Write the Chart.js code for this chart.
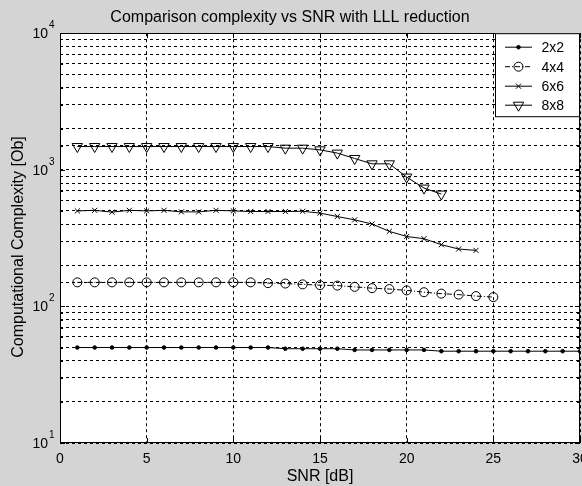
<!DOCTYPE html>
<html><head><meta charset="utf-8">
<script src="https://cdn.jsdelivr.net/npm/chart.js@4.4.1/dist/chart.umd.min.js"></script>
<style>html,body{margin:0;padding:0;background:#d4d4d4;}canvas{display:block;}</style>
</head><body>
<canvas id="c" width="582" height="486"></canvas>
<script>
// ---- data ----
const seriesNames = ['2x2', '4x4', '6x6', '8x8'];
const snr2x2 = [1,2,3,4,5,6,7,8,9,10,11,12,13,14,15,16,17,18,19,20,21,22,23,24,25,26,27,28,29,30];
const cc2x2  = [50,50,50,50,50,50,50,50,50,50,50,50,49,49,49,49,48,48,48,48,48,47,47,47,47,47,47,47,47,47];
const snr4x4 = [1,2,3,4,5,6,7,8,9,10,11,12,13,14,15,16,17,18,19,20,21,22,23,24,25];
const cc4x4  = [150,150,150,150,150,150,150,150,150,150,150,148,147,145,143,142,139,136,134,131,127,124,122,119,117];
const snr6x6 = [1,2,3,4,5,6,7,8,9,10,11,12,13,14,15,16,17,18,19,20,21,22,23,24];
const cc6x6  = [500,505,490,505,500,505,492,492,505,500,495,495,495,497,482,455,430,401,354,325,313,283,263,257];
const snr8x8 = [1,2,3,4,5,6,7,8,9,10,11,12,13,14,15,16,17,18,19,20,21,22];
const cc8x8  = [1480,1480,1480,1480,1480,1480,1480,1480,1480,1480,1480,1480,1440,1440,1400,1325,1210,1106,1106,885,735,664];
const xTickValues = [0,5,10,15,20,25,30];
const yMajorValues = [10,100,1000,10000];
const yMajorExponents = ['1','2','3','4'];
const titleText = 'Comparison complexity vs SNR with LLL reduction';
const xTitle = 'SNR [dB]';
const yTitle = 'Computational Complexity [Ob]';

const FONT = "Arial, 'Liberation Sans', sans-serif";
const pts = (xs, ys) => xs.map((x, i) => ({x: x, y: ys[i]}));

const styles = [
  {pointStyle:'circle', pointRadius:1.8, pointBackgroundColor:'#000', borderDash:[], rotation:0},
  {pointStyle:'circle', pointRadius:4.5, pointBackgroundColor:'rgba(0,0,0,0)', borderDash:[5,2,1,2], rotation:0},
  {pointStyle:'crossRot', pointRadius:3.6, pointBackgroundColor:'rgba(0,0,0,0)', borderDash:[], rotation:0},
  {pointStyle:'triangle', pointRadius:6, pointBackgroundColor:'rgba(0,0,0,0)', borderDash:[], rotation:180}
];
const seriesData = [pts(snr2x2, cc2x2), pts(snr4x4, cc4x4), pts(snr6x6, cc6x6), pts(snr8x8, cc8x8)];

const datasets = seriesNames.map((name, i) => ({
  label: name,
  data: seriesData[i],
  borderColor: '#000',
  borderWidth: 1,
  borderDash: styles[i].borderDash,
  pointStyle: styles[i].pointStyle,
  pointRadius: styles[i].pointRadius,
  pointRotation: styles[i].rotation,
  pointBackgroundColor: styles[i].pointBackgroundColor,
  pointBorderColor: '#000',
  pointBorderWidth: 1,
  pointHoverRadius: styles[i].pointRadius,
  fill: false,
  tension: 0
}));

const matlabPlugin = {
  id: 'matlab',
  beforeDraw(chart) {
    const {ctx, chartArea: a} = chart;
    ctx.save();
    ctx.fillStyle = '#d4d4d4';
    ctx.fillRect(0, 0, chart.width, chart.height);
    ctx.fillStyle = '#ffffff';
    ctx.fillRect(a.left, a.top, a.right - a.left, a.bottom - a.top);
    ctx.restore();
  },
  afterDraw(chart) {
    const {ctx, chartArea: a, scales} = chart;
    const xs = scales.x, ys = scales.y;
    ctx.save();
    ctx.strokeStyle = '#000';
    ctx.lineWidth = 1;
    ctx.setLineDash([]);
    // inward tick marks
    ctx.beginPath();
    xTickValues.forEach(v => {
      const px = Math.round(xs.getPixelForValue(v)) + 0.5;
      ctx.moveTo(px, a.bottom); ctx.lineTo(px, a.bottom - 5);
      ctx.moveTo(px, a.top); ctx.lineTo(px, a.top + 5);
    });
    ys.ticks.forEach(t => {
      const py = Math.round(ys.getPixelForValue(t.value)) + 0.5;
      const len = yMajorValues.includes(t.value) ? 5 : 3;
      ctx.moveTo(a.left, py); ctx.lineTo(a.left + len, py);
      ctx.moveTo(a.right, py); ctx.lineTo(a.right - len, py);
    });
    ctx.stroke();
    // axes box
    ctx.strokeRect(Math.round(a.left) + 0.5, Math.round(a.top) + 0.5,
                   Math.round(a.right - a.left) - 1, Math.round(a.bottom - a.top) - 1);
    // y tick labels 10^n
    ctx.fillStyle = '#000';
    yMajorValues.forEach((v, i) => {
      const py = ys.getPixelForValue(v);
      ctx.font = '14px ' + FONT;
      ctx.textAlign = 'right';
      ctx.textBaseline = 'middle';
      ctx.fillText('10', a.left - 12, py + 1);
      ctx.font = '10px ' + FONT;
      ctx.textAlign = 'left';
      ctx.fillText(yMajorExponents[i], a.left - 11, py - 8);
    });
    // legend
    const bx = a.right - 85, by = a.top, bw = 85, bh = 84;
    ctx.fillStyle = '#fff';
    ctx.fillRect(bx, by, bw, bh);
    ctx.strokeStyle = '#000';
    ctx.lineWidth = 1;
    ctx.strokeRect(bx + 0.5, by + 0.5, bw - 1, bh - 1);
    const rowY = [14, 33.5, 53, 72];
    chart.data.datasets.forEach((ds, i) => {
      const cy = by + rowY[i];
      ctx.strokeStyle = '#000';
      ctx.lineWidth = 1;
      ctx.setLineDash(ds.borderDash || []);
      ctx.beginPath();
      ctx.moveTo(bx + 10, cy); ctx.lineTo(bx + 37, cy);
      ctx.stroke();
      ctx.setLineDash([]);
      ctx.fillStyle = ds.pointBackgroundColor;
      Chart.helpers.drawPoint(ctx, {
        pointStyle: ds.pointStyle, radius: ds.pointRadius,
        rotation: ds.pointRotation, borderWidth: 1
      }, bx + 23.5, cy);
      ctx.fillStyle = '#000';
      ctx.font = '14px ' + FONT;
      ctx.textAlign = 'left';
      ctx.textBaseline = 'middle';
      ctx.fillText(ds.label, bx + 46.5, cy + 1);
    });
    ctx.restore();
  }
};

new Chart(document.getElementById('c'), {
  type: 'line',
  data: {datasets: datasets},
  plugins: [matlabPlugin],
  options: {
    responsive: false,
    animation: false,
    events: [],
    layout: {autoPadding: false, padding: {left: 0, right: 2, top: 0, bottom: 0}},
    plugins: {
      legend: {display: false},
      tooltip: {enabled: false},
      title: {
        display: true, text: titleText, color: '#000',
        font: {family: FONT, size: 16, weight: 'normal', lineHeight: 1.2},
        padding: {top: 7.5, bottom: 6.5}
      }
    },
    scales: {
      x: {
        type: 'linear', min: 0, max: 30,
        afterFit(scale) { scale.height = 43; scale.paddingLeft = 0; scale.paddingRight = 0; },
        ticks: {stepSize: 5, autoSkip: false, maxRotation: 0, color: '#000', padding: 8,
                font: {family: FONT, size: 14}},
        grid: {color: '#000', lineWidth: 1, drawTicks: false},
        border: {display: false, dash: [3, 3]},
        title: {display: true, text: xTitle, color: '#000',
                font: {family: FONT, size: 16, lineHeight: 1}, padding: {top: 0, bottom: 1}}
      },
      y: {
        type: 'logarithmic', min: 10, max: 10000,
        afterFit(scale) { scale.width = 60; scale.paddingTop = 0; scale.paddingBottom = 0; },
        ticks: {display: false, autoSkip: false},
        grid: {color: '#000', lineWidth: 1, drawTicks: false},
        border: {display: false, dash: [3, 3]},
        title: {display: true, text: yTitle + '    ', color: '#000',
                font: {family: FONT, size: 16}, padding: {top: 9, bottom: 0}}
      }
    }
  }
});
</script>
</body></html>
